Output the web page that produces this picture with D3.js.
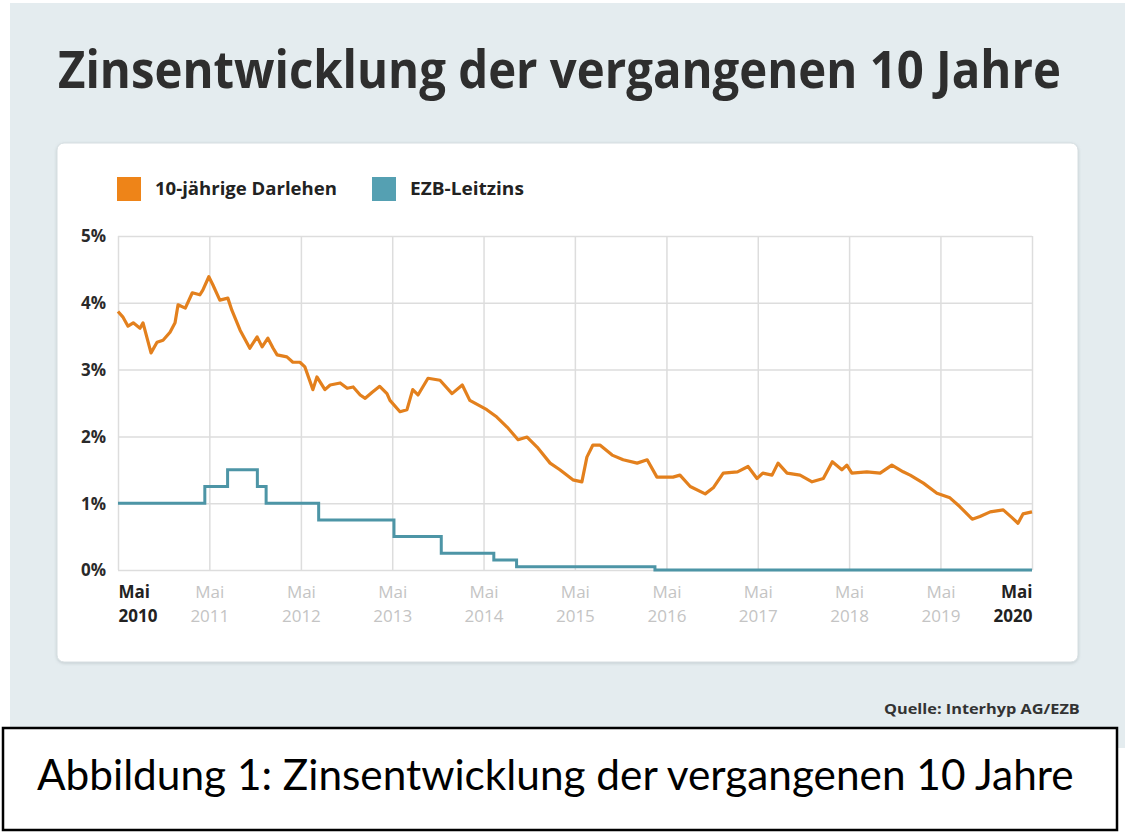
<!DOCTYPE html>
<html lang="de">
<head>
<meta charset="UTF-8">
<title>Zinsentwicklung der vergangenen 10 Jahre</title>
<script src="https://d3js.org/d3.v7.min.js"></script>
<style>
  body { margin: 0; background: #fff; font-family: "Open Sans", Arial, sans-serif; }
  svg { display: block; }
</style>
</head>
<body>
<div id="chart"></div>
<script>
// 10-jährige Darlehen (Bauzinsen)
const loanDates = [
  "2010-05-01","2010-05-20","2010-06-10","2010-07-01","2010-07-28","2010-08-09","2010-09-10","2010-10-04",
  "2010-10-28","2010-11-25","2010-12-15","2010-12-27","2011-01-25","2011-02-22","2011-03-24","2011-04-05",
  "2011-04-29","2011-05-15","2011-06-12","2011-07-14","2011-07-30","2011-09-01","2011-10-10","2011-11-08",
  "2011-11-28","2011-12-21","2012-01-11","2012-01-27","2012-03-06","2012-03-30","2012-04-27","2012-05-17","2012-06-18",
  "2012-07-04","2012-08-05","2012-08-26","2012-10-05","2012-11-02","2012-11-26","2012-12-24","2013-01-13",
  "2013-02-10","2013-03-12","2013-04-10","2013-04-22","2013-06-01","2013-06-29","2013-07-22","2013-08-12","2013-09-21",
  "2013-11-08","2013-12-26","2014-02-05","2014-03-07","2014-05-14","2014-06-23","2014-08-03","2014-09-16",
  "2014-10-22","2014-12-01","2015-01-22","2015-03-02","2015-04-23","2015-05-29","2015-06-18","2015-07-12",
  "2015-08-09","2015-09-27","2015-11-10","2016-01-05","2016-02-14","2016-03-24","2016-05-27","2016-06-24",
  "2016-08-04","2016-10-03","2016-11-04","2016-12-14","2017-02-09","2017-03-23","2017-04-28","2017-05-21",
  "2017-06-27","2017-07-21","2017-08-26","2017-10-17","2017-12-04","2018-01-18","2018-02-23","2018-04-02",
  "2018-04-22","2018-05-12","2018-07-11","2018-09-02","2018-10-19","2018-12-03","2018-12-31","2019-02-22",
  "2019-04-17","2019-06-08","2019-07-17","2019-09-05","2019-10-06","2019-11-16","2020-01-07","2020-02-12",
  "2020-03-06","2020-03-26","2020-05-01"
];
const loanValues = [
  3.87,3.79,3.65,3.70,3.62,3.70,3.25,3.41,
  3.44,3.56,3.70,3.97,3.92,4.15,4.12,4.19,
  4.39,4.27,4.04,4.07,3.89,3.59,3.32,3.49,
  3.34,3.47,3.32,3.22,3.19,3.11,3.11,3.04,2.70,
  2.89,2.70,2.77,2.80,2.72,2.74,2.62,2.57,
  2.66,2.75,2.64,2.54,2.37,2.40,2.70,2.62,2.87,
  2.84,2.64,2.77,2.54,2.40,2.29,2.14,1.95,
  1.99,1.84,1.60,1.50,1.35,1.32,1.69,1.87,
  1.87,1.72,1.65,1.60,1.65,1.39,1.39,1.42,
  1.25,1.14,1.23,1.45,1.47,1.55,1.37,1.45,
  1.42,1.60,1.45,1.42,1.32,1.37,1.62,1.50,
  1.57,1.45,1.47,1.45,1.57,1.47,1.42,1.30,
  1.15,1.08,0.95,0.76,0.80,0.87,0.90,0.78,
  0.70,0.84,0.87
];

// EZB-Leitzins (Stufen)
const ecbDates = [
  "2010-05-01","2011-04-13","2011-07-13","2011-11-09","2011-12-14","2012-07-11",
  "2013-05-08","2013-11-13","2014-06-11","2014-09-10","2016-03-16","2020-05-01"
];
const ecbValues = [1.00,1.25,1.50,1.25,1.00,0.75,0.50,0.25,0.15,0.05,0.00,0.00];

const yTicks = [0, 1, 2, 3, 4, 5];
const xTickYears = [2010,2011,2012,2013,2014,2015,2016,2017,2018,2019,2020];
const seriesNames = ["10-jährige Darlehen", "EZB-Leitzins"];

const W = 1132, H = 838;
const orange = "#e3801d", teal = "#4d95a6";

const svg = d3.select("#chart").append("svg")
  .attr("width", W).attr("height", H);

// squeeze a text horizontally to a target width (the original uses a narrow font)
function fitText(sel, x0, y0, width) {
  const w = sel.node().getComputedTextLength();
  sel.attr("x", 0).attr("y", 0)
    .attr("transform", `translate(${x0},${y0}) scale(${width / w},1)`);
}

// shadow for the card
const defs = svg.append("defs");
const f = defs.append("filter").attr("id", "sh").attr("x", "-5%").attr("y", "-5%").attr("width", "110%").attr("height", "110%");
f.append("feDropShadow").attr("dx", 0).attr("dy", 1).attr("stdDeviation", 1.5).attr("flood-color", "#9aa7ab").attr("flood-opacity", 0.45);

// background panel
svg.append("rect").attr("x", 10).attr("y", 3).attr("width", 1115).attr("height", 745).attr("fill", "#e4ecef");

const title = svg.append("text")
  .attr("font-size", 52).attr("font-weight", 700)
  .attr("fill", "#2e2e2e")
  .text("Zinsentwicklung der vergangenen 10 Jahre");
fitText(title, 58, 88, 1003);

// card
svg.append("rect").attr("x", 57).attr("y", 143).attr("width", 1021).attr("height", 519)
  .attr("rx", 7).attr("fill", "#fff").attr("stroke", "#d6dee1").attr("stroke-width", 1)
  .attr("filter", "url(#sh)");

// legend
const legend = svg.append("g");
const legX = [117, 372];
const legW = [182, 114];
seriesNames.forEach((n, i) => {
  legend.append("rect").attr("x", legX[i]).attr("y", 177).attr("width", 24).attr("height", 24)
    .attr("fill", i === 0 ? "#ee8418" : "#55a0b2");
  const t = legend.append("text")
    .attr("font-size", 17).attr("font-weight", 700).attr("fill", "#222")
    .text(n);
  fitText(t, legX[i] + 38, 195, legW[i]);
});

const x = d3.scaleTime()
  .domain([new Date(2010, 4, 1), new Date(2020, 4, 1)])
  .range([118, 1032]);
const y = d3.scaleLinear().domain([0, 5]).range([570, 236]);

// horizontal grid + y labels
const yAxis = svg.append("g")
  .attr("transform", "translate(118,0)")
  .call(d3.axisLeft(y).tickValues(yTicks).tickSize(-(1032 - 118)).tickFormat(d => d + "%"));
yAxis.select(".domain").remove();
yAxis.selectAll(".tick line").attr("stroke", "#dddddd").attr("stroke-width", 1.5);
yAxis.selectAll(".tick text")
  .attr("x", -12).attr("dy", "0.35em")
  .attr("font-family", "Open Sans, Arial, sans-serif")
  .attr("font-size", 17).attr("font-weight", 700).attr("fill", "#2a2a2a");

// vertical grid + x labels
const xDates = xTickYears.map(yr => new Date(yr, 4, 1));
const xAxis = svg.append("g")
  .attr("transform", "translate(0,570)")
  .call(d3.axisBottom(x).tickValues(xDates).tickSize(-(570 - 236)).tickFormat(""));
xAxis.select(".domain").remove();
xAxis.selectAll(".tick line").attr("stroke", "#dddddd").attr("stroke-width", 1.5);
xAxis.selectAll(".tick").each(function (d, i) {
  const last = xDates.length - 1;
  const strong = i === 0 || i === last;
  const anchor = i === 0 ? "start" : (i === last ? "end" : "middle");
  const g = d3.select(this).append("text")
    .attr("text-anchor", anchor)
    .attr("font-family", "Open Sans, Arial, sans-serif")
    .attr("font-size", 17)
    .attr("font-weight", strong ? 700 : 400)
    .attr("fill", strong ? "#222" : "#c4c4c4");
  g.append("tspan").attr("x", 0).attr("y", 28).text("Mai");
  g.append("tspan").attr("x", 0).attr("y", 52).text(d.getFullYear());
});

// lines
const parse = d3.timeParse("%Y-%m-%d");
const loan = loanDates.map((d, i) => ({ date: parse(d), v: loanValues[i] }));
const ecb = ecbDates.map((d, i) => ({ date: parse(d), v: ecbValues[i] }));

svg.append("path").datum(ecb)
  .attr("fill", "none").attr("stroke", teal).attr("stroke-width", 3)
  .attr("d", d3.line().x(d => x(d.date)).y(d => y(d.v)).curve(d3.curveStepAfter));

svg.append("path").datum(loan)
  .attr("fill", "none").attr("stroke", orange).attr("stroke-width", 3.2)
  .attr("stroke-linejoin", "round")
  .attr("d", d3.line().x(d => x(d.date)).y(d => y(d.v)));

// source
const src = svg.append("text").attr("text-anchor", "start")
  .attr("font-size", 14).attr("font-weight", 700).attr("fill", "#333")
  .text("Quelle: Interhyp AG/EZB");
fitText(src, 884, 714, 196);

// caption box
svg.append("rect").attr("x", 3).attr("y", 728).attr("width", 1114).attr("height", 102)
  .attr("fill", "#fff").attr("stroke", "#000").attr("stroke-width", 2.5);
const cap = svg.append("text")
  .attr("font-family", "Lato, 'Open Sans', sans-serif")
  .attr("font-size", 42).attr("fill", "#000")
  .text("Abbildung 1: Zinsentwicklung der vergangenen 10 Jahre");
fitText(cap, 37, 790, 1037);
</script>
</body>
</html>
